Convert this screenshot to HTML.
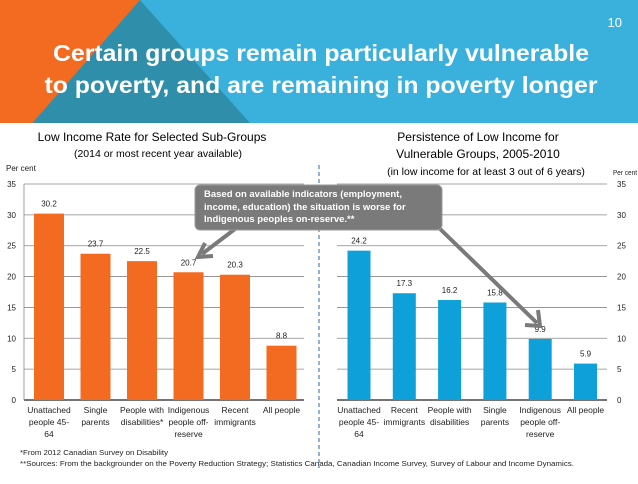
<!DOCTYPE html>
<html><head><meta charset="utf-8"><style>
body{margin:0;width:638px;height:479px;overflow:hidden;background:#fff;font-family:"Liberation Sans",sans-serif}
</style></head><body>
<svg width="638" height="479" viewBox="0 0 638 479" xmlns="http://www.w3.org/2000/svg" font-family="Liberation Sans, sans-serif">
<g>
<rect x="0" y="0" width="638" height="123" fill="#3ab1dd"/>
<polygon points="140,0 250,123 0,123 0,0" fill="#2f8fab"/>
<polygon points="0,0 140,0 0,160" fill="#f26b21"/>
<rect x="0" y="123" width="638" height="40" fill="#fff"/>
</g>
<text x="622" y="27" fill="#fff" font-size="13" text-anchor="end">10</text>
<text fill="#fff" font-size="23" font-weight="bold" text-anchor="middle"><tspan x="321" y="61" textLength="536" lengthAdjust="spacingAndGlyphs">Certain groups remain particularly vulnerable</tspan><tspan x="321" y="93" textLength="553" lengthAdjust="spacingAndGlyphs">to poverty, and are remaining in poverty longer</tspan></text>

<text x="152" y="141" font-size="12" text-anchor="middle" fill="#000">Low Income Rate for Selected Sub-Groups</text>
<text x="158" y="157" font-size="10.5" text-anchor="middle" fill="#000">(2014 or most recent year available)</text>
<text x="478" y="141" font-size="12" text-anchor="middle" fill="#000">Persistence of Low Income for</text>
<text x="478" y="158" font-size="12" text-anchor="middle" fill="#000">Vulnerable Groups, 2005-2010</text>
<text x="486" y="175" font-size="10.5" text-anchor="middle" fill="#000">(in low income for at least 3 out of 6 years)</text>
<text x="6" y="171" font-size="8" fill="#222">Per cent</text>
<text x="613" y="175" font-size="7" fill="#222" textLength="24" lengthAdjust="spacingAndGlyphs">Per cent</text>

<line x1="319" y1="165" x2="319" y2="468" stroke="#4a7fc0" stroke-width="1.2" stroke-dasharray="4,3"/>
<g id="charts"></g>

<g>
<line x1="235" y1="229" x2="202" y2="254" stroke="#7a7a7a" stroke-width="4"/>
<polyline points="205,243 198,257 213,256" fill="none" stroke="#7a7a7a" stroke-width="4"/>
<line x1="436" y1="225" x2="537" y2="323" stroke="#7a7a7a" stroke-width="4"/>
<polyline points="538,310 540,326 525,325" fill="none" stroke="#7a7a7a" stroke-width="4"/>
<rect x="195" y="185" width="247" height="45" rx="5" fill="#7a7a7a" stroke="#999" stroke-width="1"/>
<text fill="#fff" font-size="9.5" font-weight="bold"><tspan x="204" y="197">Based on available indicators (employment,</tspan><tspan x="204" y="210">income, education) the situation is worse for</tspan><tspan x="204" y="222">Indigenous peoples on-reserve.**</tspan></text>
</g>

<text x="20" y="455" font-size="7.5" fill="#222" textLength="148" lengthAdjust="spacingAndGlyphs">*From 2012 Canadian Survey on Disability</text>
<text x="20" y="466" font-size="7.5" fill="#222" textLength="554" lengthAdjust="spacingAndGlyphs">**Sources: From the backgrounder on the Poverty Reduction Strategy; Statistics Canada, Canadian Income Survey, Survey of Labour and Income Dynamics.</text>
</svg>
<script>
const leftCategories=[["Unattached","people 45-","64"],["Single","parents"],["People with","disabilities*"],["Indigenous","people off-","reserve"],["Recent","immigrants"],["All people"]];
const leftValues=[30.2,23.7,22.5,20.7,20.3,8.8];
const rightCategories=[["Unattached","people 45-","64"],["Recent","immigrants"],["People with","disabilities"],["Single","parents"],["Indigenous","people off-","reserve"],["All people"]];
const rightValues=[24.2,17.3,16.2,15.8,9.9,5.9];
const yTicks=[0,5,10,15,20,25,30,35];

const NS="http://www.w3.org/2000/svg";
const g=document.getElementById('charts');
function y(v){return 400-v*(216/35);}
function mk(tag,attrs){const e=document.createElementNS(NS,tag);for(const k in attrs)e.setAttribute(k,attrs[k]);g.appendChild(e);return e;}
function draw(side,cats,vals,x0,x1,c0,step,bw,color,labelX,anchor){
  yTicks.forEach(t=>{
    const l=mk('line',{x1:x0,x2:x1,y1:y(t),y2:y(t),stroke:t===0?'#222':'#888','stroke-width':t===0?1.2:0.8});
    
    
    const tx=mk('text',{x:labelX,y:y(t)+3,'font-size':8,'text-anchor':anchor,fill:'#222'});
    tx.textContent=t;
    
    
  });
  if(side==='left'){const a=mk('line',{x1:x0,x2:x0,y1:y(35),y2:y(0),stroke:'#888','stroke-width':0.8});
    
    }
  vals.forEach((v,i)=>{
    const cx=c0+i*step;
    const r=mk('rect',{x:cx-bw/2,y:y(v),width:bw,height:y(0)-y(v),fill:color});
    
    
    const t=mk('text',{x:cx,y:y(v)-7,'font-size':8,'text-anchor':'middle',fill:'#222'});
    t.textContent=v.toFixed(1);
    
    
    const ct=mk('text',{'font-size':8.5,'text-anchor':'middle',fill:'#222'});
    
    
    cats[i].forEach((s,j)=>{const sp=document.createElementNS(NS,'tspan');sp.setAttribute('x',cx);sp.setAttribute('y',413+j*12);sp.textContent=s;ct.appendChild(sp);});
  });
}
draw('left',leftCategories,leftValues,24,304,49,46.5,30,'#f26b21',16,'end');
draw('right',rightCategories,rightValues,337,607,359,45.3,23,'#0ea0d8',617,'start');
</script>
</body></html>
